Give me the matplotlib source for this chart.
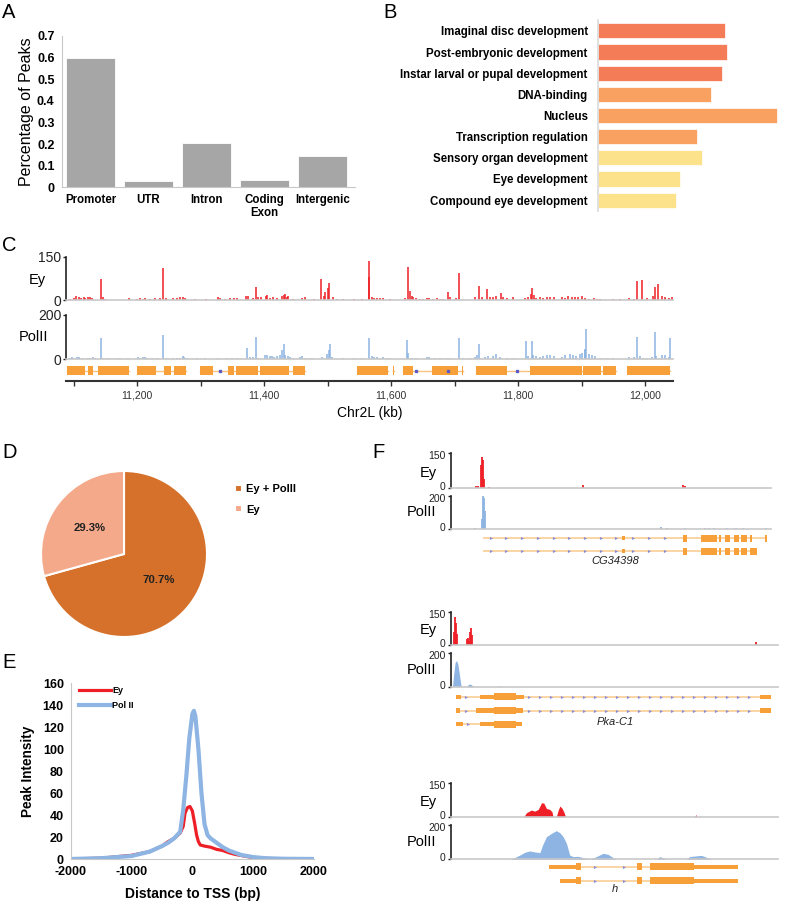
import matplotlib
matplotlib.use('Agg')
import matplotlib.pyplot as plt
import matplotlib.transforms as mtransforms
import numpy as np

plt.rcParams['font.family'] = ['Liberation Sans', 'DejaVu Sans']
plt.rcParams['axes.unicode_minus'] = False

W, H = 796, 907

# A: where the peaks fall
region_names = ['Promoter', 'UTR', 'Intron', 'Coding\nExon', 'Intergenic']
peak_frac = [0.60, 0.029, 0.204, 0.034, 0.145]

# B: GO terms (bar length, no scale shown)
go_terms = ['Imaginal disc development', 'Post-embryonic development',
            'Instar larval or pupal development', 'DNA-binding', 'Nucleus',
            'Transcription regulation', 'Sensory organ development',
            'Eye development', 'Compound eye development']
go_scores = [12.7, 12.9, 12.4, 11.3, 17.9, 9.9, 10.4, 8.2, 7.8]
go_colors = ['#F47C56'] * 3 + ['#F8A160'] * 3 + ['#FCE38B'] * 3

# C: Chr2L browser view (kb, signal)
ey_c = [(11143, 73), (11240, 110), (11387, 46), (11490, 72), (11500, 40), (11502, 58),
        (11565, 80), (11566, 135), (11626, 113), (11689, 28), (11707, 94), (11738, 47),
        (11751, 38), (11822, 40), (11988, 66), (11995, 69), (12016, 44), (12020, 54),
        (11095, 5), (11100, 8), (11104, 15), (11108, 12), (11111, 8), (11116, 12), (11118, 6),
        (11122, 11), (11126, 12), (11129, 8), (11146, 10), (11150, 4), (11188, 6), (11200, 5),
        (11205, 7), (11209, 5), (11213, 6), (11221, 5), (11228, 7), (11236, 7), (11245, 6),
        (11257, 6), (11263, 7), (11268, 10), (11272, 12), (11276, 8), (11291, 4), (11309, 5),
        (11327, 10), (11331, 7), (11339, 4), (11347, 6), (11352, 8), (11357, 6), (11372, 15),
        (11375, 13), (11383, 6), (11391, 9), (11395, 12), (11403, 15), (11404, 18), (11410, 8),
        (11414, 10), (11420, 8), (11428, 14), (11431, 17), (11433, 20), (11436, 12),
        (11438, 15), (11446, 4), (11459, 7), (11465, 9), (11478, 5), (11494, 15), (11496, 28),
        (11509, 12), (11515, 5), (11525, 4), (11541, 4), (11554, 4), (11570, 10), (11573, 6),
        (11578, 8), (11583, 6), (11588, 7), (11599, 4), (11622, 8), (11630, 30), (11633, 15),
        (11635, 10), (11640, 6), (11646, 4), (11651, 5), (11656, 7), (11660, 8), (11666, 5),
        (11672, 6), (11677, 5), (11682, 5), (11693, 10), (11703, 8), (11732, 10), (11743, 12),
        (11756, 10), (11761, 12), (11766, 15), (11773, 25), (11777, 10), (11782, 6),
        (11792, 12), (11811, 6), (11816, 10), (11820, 20), (11825, 18), (11829, 8),
        (11835, 10), (11840, 8), (11845, 10), (11850, 12), (11856, 10), (11869, 10),
        (11874, 7), (11879, 15), (11885, 10), (11890, 12), (11895, 12), (11900, 15),
        (11906, 8), (11911, 5), (11919, 6), (11924, 5), (11929, 4), (11950, 3), (11961, 3),
        (11974, 6), (11982, 5), (12003, 8), (12013, 15), (12026, 15), (12032, 10),
        (12037, 8), (12042, 12)]
pol_c = [(11143, 98), (11240, 110), (11373, 53), (11387, 102), (11428, 42), (11431, 69),
         (11502, 41), (11504, 69), (11566, 98), (11625, 87), (11707, 98), (11738, 68),
         (11812, 81), (11822, 81), (11905, 42), (11907, 137), (11988, 102), (12015, 122),
         (12040, 98),
         (11095, 5), (11097, 10), (11101, 8), (11105, 10), (11109, 9), (11113, 8), (11122, 7),
         (11126, 6), (11131, 12), (11134, 6), (11146, 7), (11152, 5), (11158, 6), (11168, 5),
         (11173, 8), (11186, 4), (11201, 10), (11205, 8), (11209, 10), (11213, 12), (11216, 6),
         (11223, 4), (11231, 5), (11245, 4), (11256, 6), (11263, 6), (11268, 8), (11272, 15),
         (11274, 10), (11278, 5), (11294, 4), (11307, 5), (11328, 5), (11341, 4), (11349, 6),
         (11357, 8), (11378, 12), (11383, 10), (11391, 8), (11402, 20), (11404, 18),
         (11410, 15), (11412, 16), (11415, 12), (11420, 15), (11425, 20), (11433, 20),
         (11437, 15), (11441, 10), (11446, 5), (11457, 12), (11459, 15), (11465, 8),
         (11475, 5), (11491, 10), (11499, 25), (11507, 10), (11525, 6), (11541, 4), (11554, 4),
         (11570, 15), (11573, 10), (11578, 12), (11583, 8), (11588, 10), (11593, 6),
         (11599, 4), (11627, 30), (11633, 8), (11640, 6), (11656, 10), (11660, 12), (11664, 8),
         (11669, 6), (11677, 5), (11688, 6), (11693, 4), (11714, 5), (11724, 6), (11732, 10),
         (11736, 18), (11740, 8), (11748, 12), (11753, 15), (11761, 15), (11766, 25),
         (11772, 10), (11782, 6), (11793, 5), (11816, 15), (11824, 20), (11829, 15),
         (11835, 12), (11840, 15), (11845, 20), (11850, 18), (11856, 16), (11869, 12),
         (11874, 18), (11882, 25), (11887, 20), (11892, 15), (11898, 25), (11900, 30),
         (11906, 45), (11911, 25), (11916, 20), (11921, 15), (11929, 8), (11940, 6),
         (11950, 5), (11974, 12), (11982, 10), (11992, 15), (11997, 8), (12003, 6),
         (12011, 10), (12018, 15), (12026, 20), (12032, 18), (12037, 12)]
chr_genes = [(11089, 11187), (11200, 11277), (11299, 11464), (11547, 11595),
             (11603, 11605), (11619, 11714), (11734, 11954), (11971, 12040)]
chr_exons = [(11089, 11118), (11122, 11131), (11139, 11187), (11200, 11230), (11243, 11254),
             (11258, 11277), (11299, 11320), (11343, 11352), (11356, 11390), (11394, 11440),
             (11445, 11464), (11547, 11595), (11603, 11605), (11619, 11635), (11665, 11706),
             (11712, 11714), (11734, 11783), (11819, 11900), (11903, 11930), (11934, 11954),
             (11971, 12040)]
chr_dots = [11330, 11640, 11689, 11798]
chr_ticks = list(range(11100, 12001, 100))

# D: overlap of Ey peaks with PolII
overlap_labels = ['Ey + PolII', 'Ey']
overlap_pct = [70.7, 29.3]

# E: average profile around TSS
ey_tss_x = [-2000, -1500, -1000, -700, -500, -400, -300, -200, -150, -120, -80, -40, 0, 40, 70,
            100, 130, 200, 250, 300, 400, 500, 600, 700, 800, 1000, 1200, 1500, 2000]
ey_tss_y = [0.3, 1, 3.6, 7, 12, 16, 19, 24, 30, 42, 47, 48, 44, 32, 22, 16, 13, 12, 11.5, 11,
            9, 8, 6, 4.5, 3.5, 1.5, 0.8, 0.4, 0.2]
pol_tss_x = [-2000, -1500, -1000, -700, -500, -400, -300, -200, -150, -100, -50, 0, 25, 50,
             100, 150, 200, 250, 300, 400, 500, 600, 700, 800, 1000, 1200, 1500, 2000]
pol_tss_y = [0.3, 1, 3, 7, 12, 15, 19, 25, 45, 75, 110, 132, 135, 130, 100, 60, 32, 22, 19,
             15, 11, 8, 6, 4, 2, 1, 0.5, 0.3]

# F: three loci, positions in % of window
cg_ey = [(7.9, 8), (8.5, 10), (9.4, 100), (9.8, 133), (10.2, 120), (10.6, 40), (12.0, 4),
         (41.2, 13), (72.6, 14), (73.1, 8)]
cg_pol = [(7.8, 5), (9.9, 60), (10.2, 200), (10.5, 190), (10.8, 107), (65.8, 12), (67.6, 5),
          (73.3, 6), (79.5, 5), (80.6, 4), (82.1, 5), (86.3, 4), (89.2, 8), (91.2, 9), (98.4, 6)]
cg_tx = [((10.1, 98.8), [(53.5, 54.6, 'm'), (72.6, 73.8, 't'), (78.3, 83.0, 't'),
                         (83.7, 84.5, 't'), (85.8, 87.3, 't'), (88.4, 89.9, 't'),
                         (90.7, 92.5, 't'), (93.3, 94.1, 't'), (98.2, 98.8, 't')]),
         ((10.1, 95.6), [(53.5, 54.6, 'm'), (72.6, 73.8, 't'), (78.3, 83.0, 't'),
                         (83.7, 84.5, 't'), (85.8, 87.3, 't'), (88.4, 89.9, 't'),
                         (90.7, 92.5, 't'), (93.3, 95.6, 't')])]

pka_ey = [(1.0, 60), (1.3, 128), (1.6, 100), (1.9, 50), (4.9, 26), (5.3, 30), (5.7, 20),
          (6.1, 60), (6.3, 75), (6.6, 45), (93.2, 12)]
pka_pol = [(0.6, 0), (1.0, 80), (1.4, 145), (1.8, 156), (2.2, 140), (2.6, 90), (3.1, 20),
           (3.3, 0), (4.9, 0), (5.4, 12), (5.9, 16), (6.4, 12), (6.9, 0), (14.9, 0), (15.2, 5),
           (15.5, 0)]
pka_tx = [((1.8, 97.8), [(1.8, 3.2, 'm'), (9.0, 13.2, 'm'), (13.2, 20.1, 't'),
                         (20.1, 22.4, 'm'), (94.4, 97.8, 'm')]),
          ((1.8, 97.8), [(1.8, 3.0, 'm'), (7.7, 13.2, 'm'), (13.2, 20.1, 't'),
                         (20.1, 22.2, 'm'), (94.4, 97.8, 'm')]),
          ((1.8, 21.7), [(1.8, 3.7, 'm'), (9.0, 13.2, 'm'), (13.2, 20.1, 't'),
                         (20.1, 21.7, 'm')])]

h_ey = [(22.4, 0), (23.2, 18), (24.7, 30), (25.7, 25), (26.8, 33), (27.8, 63), (28.5, 61),
        (29.3, 37), (30.3, 33), (31.0, 22), (31.3, 0), (32.3, 0), (32.9, 30), (33.4, 48),
        (34.1, 37), (34.7, 18), (35.1, 0), (74.6, 0), (74.9, 10), (75.2, 0), (76.0, 0),
        (76.1, 4), (76.3, 0)]
h_pol = [(18.1, 0), (19.6, 10), (21.2, 25), (22.7, 41), (24.2, 49), (25.7, 43), (27.3, 39),
         (28.1, 83), (29.3, 132), (30.8, 151), (32.3, 167), (33.4, 155), (34.4, 132),
         (35.4, 93), (36.4, 25), (37.4, 16), (39.0, 17), (40.5, 10), (42.5, 0), (44.6, 16),
         (46.6, 35), (48.1, 29), (49.6, 10), (50.7, 0), (62.9, 0), (63.9, 16), (65.4, 4),
         (65.9, 0), (72.0, 0), (73.0, 16), (75.6, 21), (76.6, 23), (78.1, 12), (79.7, 0)]
h_tx = [((30.1, 87.8), [(30.1, 38.3, 'm'), (38.3, 39.7, 't'), (57.0, 58.5, 't'),
                        (60.8, 74.4, 't'), (74.4, 87.8, 'm')]),
        ((33.4, 87.8), [(33.4, 38.3, 'm'), (38.3, 39.7, 't'), (57.0, 58.5, 't'),
                        (60.8, 74.4, 't'), (74.4, 87.8, 'm')])]

RED = '#EE1F26'
BLUE = '#8DB4E2'
ORANGE = '#F7A03A'
INTRON = '#FAD29E'

fig = plt.figure(figsize=(W / 100, H / 100), dpi=100)


def box(x0, y0, x1, y1):
    # axes from pixel corners (top-left origin)
    return fig.add_axes([x0 / W, 1 - y1 / H, (x1 - x0) / W, (y1 - y0) / H])


def ftext(x, y, s, **kw):
    fig.text(x / W, 1 - y / H, s, **kw)


for lab, x, y in [('A', 2, 13), ('B', 383, 13), ('C', 2, 245), ('D', 2, 452),
                  ('E', 2, 662), ('F', 372, 452)]:
    ftext(x, y, lab, fontsize=14.5, va='center', ha='left')

# ---------- A
axA = box(61.5, 36, 355, 187.3)
axA.bar(range(len(peak_frac)), peak_frac, width=0.86, color='#A6A6A6',
        edgecolor='white', linewidth=0.6)
axA.set_xlim(-0.5, 4.56)
axA.set_ylim(0, 0.7)
axA.set_yticks(np.arange(0, 0.71, 0.1))
axA.set_yticklabels(['0'] + ['%.1f' % v for v in np.arange(0.1, 0.71, 0.1)],
                    fontsize=9, fontweight='bold')
axA.set_xticks(range(len(region_names)))
axA.set_xticklabels(region_names, fontsize=8.3, fontweight='bold', linespacing=1.05)
axA.tick_params(length=0, pad=5)
for s in ['top', 'right']:
    axA.spines[s].set_visible(False)
for s in ['left', 'bottom']:
    axA.spines[s].set_color('#C8C8C8')
axA.set_ylabel('Percentage of Peaks', fontsize=11.5)
axA.yaxis.set_label_coords(-0.095, 0.5)

# ---------- B
axB = box(597.5, 20.3, 778, 210.7)
axB.barh(range(len(go_scores)), go_scores, height=0.72, color=go_colors,
         edgecolor='#FFFFFF', linewidth=0.5)
axB.set_ylim(len(go_scores) - 0.5, -0.5)
axB.set_xlim(0, 18.05)
axB.set_xticks([])
axB.set_yticks(range(len(go_terms)))
axB.set_yticklabels(go_terms, fontsize=8.3, fontweight='bold')
axB.tick_params(length=0, pad=7)
for s in ['top', 'right', 'bottom']:
    axB.spines[s].set_visible(False)
axB.spines['left'].set_color('#DADADA')
axB.spines['left'].set_linewidth(1.2)


def style_track(ax, top, xlim, fs, nudge=0):
    ax.set_xlim(*xlim)
    ax.set_ylim(0, top)
    ax.patch.set_visible(False)
    for s in ['top', 'right']:
        ax.spines[s].set_visible(False)
    ax.spines['left'].set_color('#222222')
    ax.spines['left'].set_linewidth(1.2)
    ax.spines['bottom'].set_color('#C8C8C8')
    ax.spines['bottom'].set_linewidth(1.2)
    ax.set_xticks([])
    ax.set_yticks([0, top])
    ax.set_yticklabels(['0', str(top)], fontsize=fs, color='#222222')
    ax.tick_params(axis='y', length=2.5, width=1, pad=1, colors='#222222')
    if nudge:
        # pull the two labels slightly toward each other's track centre
        lo, hi = ax.get_yticklabels()
        d = nudge / 72
        lo.set_transform(lo.get_transform() + mtransforms.ScaledTranslation(0, d, fig.dpi_scale_trans))
        hi.set_transform(hi.get_transform() + mtransforms.ScaledTranslation(0, -d, fig.dpi_scale_trans))


def spikes(ax, pairs, color, lw):
    xs, ys = zip(*pairs)
    ax.vlines(xs, 0, ys, color=color, lw=lw)


def smooth(ax, pairs, color):
    xs, ys = zip(*pairs)
    ax.fill_between(xs, 0, ys, color=color, lw=0)


def draw_tx(ax, row, span, exons, step, tall=0.5, mid=0.3):
    ax.plot(span, [row, row], color=INTRON, lw=1.3, solid_capstyle='butt', zorder=1)
    for s, e, kind in exons:
        ax.barh(row, e - s, left=s, height=tall if kind == 't' else mid,
                color=ORANGE, lw=0, zorder=2)
    bounds = [(span[0], span[0])] + [(s, e) for s, e, _ in exons] + [(span[1], span[1])]
    for (s0, e0), (s1, e1) in zip(bounds[:-1], bounds[1:]):
        if s1 - e0 > step:
            xs = np.arange(e0 + step * 0.5, s1 - step * 0.3, step)
            ax.plot(xs, [row] * len(xs), ls='none', marker='>', ms=2.3,
                    color='#8F8FD8', mec='none', zorder=3)


# ---------- C
clim = (11088, 12044)
axCe = box(66, 256.7, 673, 300)
spikes(axCe, ey_c, RED, 1.1)
style_track(axCe, 150, clim, 10)
axCp = box(66, 315, 673, 359.3)
spikes(axCp, pol_c, BLUE, 1.1)
style_track(axCp, 200, clim, 10)
ftext(37, 280, 'Ey', fontsize=10.5, ha='center', va='center')
ftext(33.5, 337, 'PolII', fontsize=10.5, ha='center', va='center')

axCg = box(66, 362, 673, 381)
for s, e in chr_genes:
    axCg.plot([s, e], [0.53, 0.53], color='#F9C27E', lw=1, zorder=1)
for s, e in chr_exons:
    axCg.barh(0.53, e - s, left=s, height=0.47, color=ORANGE, lw=0, zorder=2)
axCg.plot(chr_dots, [0.53] * len(chr_dots), ls='none', marker='s', ms=1.6,
          color='#5A5AC8', zorder=3)
axCg.set_xlim(*clim)
axCg.set_ylim(0, 1)
axCg.set_yticks([])
for s in ['top', 'right', 'left']:
    axCg.spines[s].set_visible(False)
axCg.spines['bottom'].set_color('#333333')
axCg.spines['bottom'].set_linewidth(1.5)
axCg.set_xticks(chr_ticks)
axCg.set_xticklabels(['{:,}'.format(t) if t % 200 == 0 else '' for t in chr_ticks],
                     fontsize=7.6, color='#333333')
axCg.tick_params(axis='x', length=3.5, width=1, pad=3, colors='#333333')
axCg.set_xlabel('Chr2L (kb)', fontsize=10, labelpad=4)

# ---------- D
axD = box(124 - 90, 554 - 90, 124 + 90, 554 + 90)
wedges, _, autotexts = axD.pie(overlap_pct, colors=['#D5712B', '#F4A98A'], startangle=90,
                               counterclock=False, autopct='%.1f%%', pctdistance=0.52,
                               wedgeprops=dict(edgecolor='white', linewidth=1.5))
for t in autotexts:
    t.set_fontsize(8.2)
    t.set_fontweight('bold')
    t.set_color('#222222')
axD.set_xlim(-90 / 83, 90 / 83)
axD.set_ylim(-90 / 83, 90 / 83)
fig.legend(wedges, overlap_labels, loc='upper left',
           bbox_to_anchor=(225 / W, 1 - 474 / H), frameon=False,
           prop=dict(size=8, weight='bold'), handlelength=0.6, handleheight=0.6,
           handletextpad=0.4, labelspacing=0.95)

# ---------- E
axE = box(70.7, 683.3, 314, 859.3)
axE.plot(ey_tss_x, ey_tss_y, color=RED, lw=2.3, label='Ey')
axE.plot(pol_tss_x, pol_tss_y, color=BLUE, lw=3.0, label='Pol II')
axE.set_xlim(-2000, 2000)
axE.set_ylim(0, 160)
axE.set_xticks(range(-2000, 2001, 1000))
axE.set_yticks(range(0, 161, 20))
for t in axE.get_xticklabels() + axE.get_yticklabels():
    t.set_fontweight('bold')
    t.set_fontsize(9)
axE.tick_params(length=0, pad=5)
for s in ['top', 'right']:
    axE.spines[s].set_visible(False)
for s in ['left', 'bottom']:
    axE.spines[s].set_color('#C8C8C8')
axE.set_ylabel('Peak Intensity', fontsize=9.8, fontweight='bold')
axE.yaxis.set_label_coords(-0.145, 0.5)
axE.set_xlabel('Distance to TSS (bp)', fontsize=10, fontweight='bold', labelpad=6)
axE.legend(loc='upper left', bbox_to_anchor=(0.0, 1.03), frameon=False,
           prop=dict(size=6.5, weight='bold'), handlelength=3.6, handletextpad=0.1,
           labelspacing=0.7)

# ---------- F
loci = [
    dict(ey=cg_ey, pol=cg_pol, tx=cg_tx, name='CG34398', right=771,
         ey_y=(453, 488), pol_y=(496, 529), rows=(538, 551), name_y=561, step=4.9,
         pol_smooth=False, ey_smooth=False),
    dict(ey=pka_ey, pol=pka_pol, tx=pka_tx, name='Pka-C1', right=778,
         ey_y=(611.7, 645), pol_y=(653.3, 686.7), rows=(696.7, 724.3), name_y=722,
         step=3.36, pol_smooth=True, ey_smooth=False),
    dict(ey=h_ey, pol=h_pol, tx=h_tx, name='h', right=778,
         ey_y=(783.4, 816.7), pol_y=(825, 859.3), rows=(866.7, 880.7), name_y=889,
         step=8.85, pol_smooth=True, ey_smooth=True),
]
for lc in loci:
    axe = box(450.5, lc['ey_y'][0], lc['right'], lc['ey_y'][1])
    if lc['ey_smooth']:
        smooth(axe, lc['ey'], RED)
    else:
        spikes(axe, lc['ey'], RED, 1.3)
    style_track(axe, 150, (0, 100), 7.5, nudge=1.5)
    axp = box(450.5, lc['pol_y'][0], lc['right'], lc['pol_y'][1])
    if lc['pol_smooth']:
        smooth(axp, lc['pol'], BLUE)
    else:
        spikes(axp, lc['pol'], BLUE, 1.3)
    style_track(axp, 200, (0, 100), 7.5, nudge=1.5)
    ftext(428.5, (lc['ey_y'][0] + lc['ey_y'][1]) / 2 + 2, 'Ey', fontsize=10.5,
          ha='center', va='center')
    ftext(422, (lc['pol_y'][0] + lc['pol_y'][1]) / 2, 'PolII', fontsize=10.5,
          ha='center', va='center')

    n = len(lc['tx'])
    sp = (lc['rows'][1] - lc['rows'][0]) / (n - 1)
    axg = box(450.5, lc['rows'][0] - sp / 2, lc['right'], lc['rows'][1] + sp / 2)
    for i, (span, exons) in enumerate(lc['tx']):
        draw_tx(axg, i, span, exons, lc['step'], tall=7 / sp, mid=4.2 / sp)
    axg.set_xlim(0, 100)
    axg.set_ylim(n - 0.5, -0.5)
    axg.axis('off')
    ftext(615, lc['name_y'], lc['name'], fontsize=8, style='italic',
          ha='center', va='center', color='#222222')

fig.savefig('out.png', dpi=100)
